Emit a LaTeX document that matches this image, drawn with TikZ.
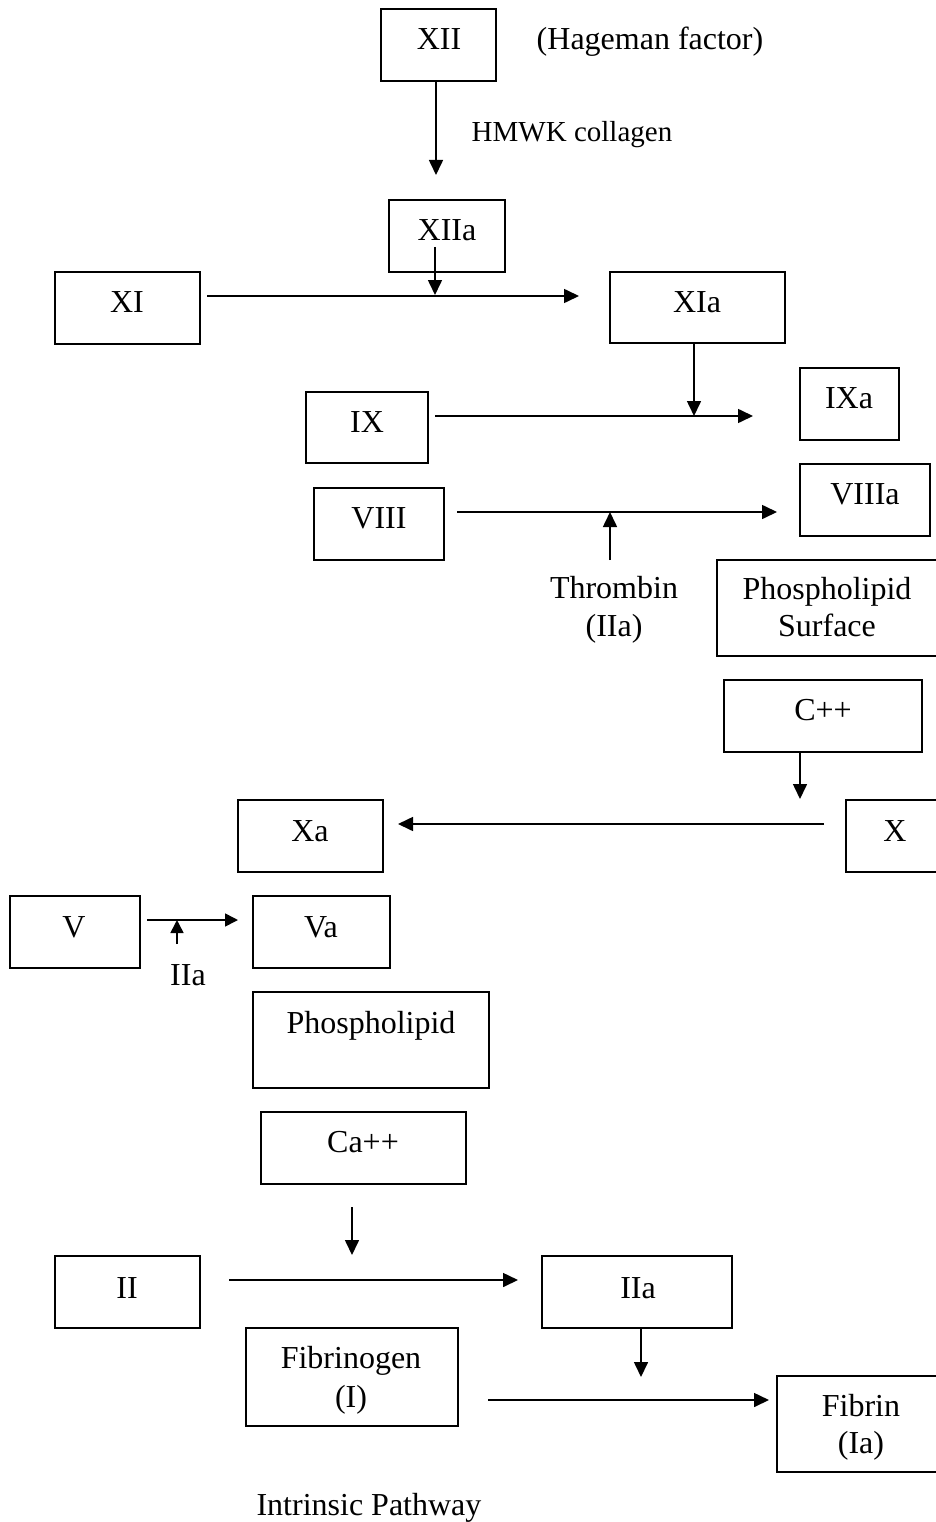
\documentclass[tikz,border=0pt]{standalone}
\usepackage{fontspec}
\setmainfont{Liberation Serif}
\usetikzlibrary{arrows.meta}
\tikzset{
  box/.style={draw, line width=1.7pt, inner sep=0pt, rectangle},
  lbl/.style={anchor=base, inner sep=0pt, font=\fontsize{32}{38}\selectfont},
  small/.style={anchor=base, inner sep=0pt, font=\fontsize{29}{34}\selectfont},
  arr/.style={line width=1.6pt, -{Triangle[length=15pt,width=14pt]}}
}
\newcommand{\bx}[5]{\node[box, minimum width={#4-#2}, minimum height={#5-#3}] (#1) at ({(#2+#4)/2},{(#3+#5)/2}) {};}
\begin{document}
\begin{tikzpicture}[x=1pt,y=-1pt]
\useasboundingbox (0,0) rectangle (936,1522);
% boxes
\bx{xii}{381}{9}{496}{81}
\bx{xiia}{389}{200}{505}{272}
\bx{xi}{55}{272}{200}{344}
\bx{xia}{610}{272}{785}{343}
\bx{ix}{306}{392}{428}{463}
\bx{ixa}{800}{368}{899}{440}
\bx{viii}{314}{488}{444}{560}
\bx{viiia}{800}{464}{930}{536}
\bx{psurf}{717}{560}{940}{656}
\bx{cpp}{724}{680}{922}{752}
\bx{x}{846}{800}{940}{872}
\bx{xa}{238}{800}{383}{872}
\bx{v}{10}{896}{140}{968}
\bx{va}{253}{896}{390}{968}
\bx{phos}{253}{992}{489}{1088}
\bx{ca}{261}{1112}{466}{1184}
\bx{ii}{55}{1256}{200}{1328}
\bx{iia}{542}{1256}{732}{1328}
\bx{fgen}{246}{1328}{458}{1426}
\bx{fibrin}{777}{1376}{940}{1472}
% texts
\node[lbl] (t-xii) at (439,50) {XII};
\node[lbl] (t-hag) at (650,50) {(Hageman factor)};
\node[small] (t-hmwk) at (572,142) {HMWK collagen};
\node[lbl] (t-xiia) at (447,241) {XIIa};
\node[lbl] (t-xi) at (127,312) {XI};
\node[lbl] (t-xia) at (697,312) {XIa};
\node[lbl] (t-ix) at (367,432) {IX};
\node[lbl] (t-ixa) at (849,408) {IXa};
\node[lbl] (t-viii) at (379,528) {VIII};
\node[lbl] (t-viiia) at (865,504) {VIIIa};
\node[lbl] (t-thr1) at (614,598) {Thrombin};
\node[lbl] (t-thr2) at (614,636) {(IIa)};
\node[lbl] (t-ps1) at (827,599) {Phospholipid};
\node[lbl] (t-ps2) at (827,636) {Surface};
\node[lbl] (t-cpp) at (823,720) {C++};
\node[lbl] (t-x) at (895,841) {X};
\node[lbl] (t-xa) at (310,841) {Xa};
\node[lbl] (t-v) at (74,937) {V};
\node[lbl] (t-va) at (321,937) {Va};
\node[lbl] (t-iia2) at (188,985) {IIa};
\node[lbl] (t-phos) at (371,1033) {Phospholipid};
\node[lbl] (t-ca) at (363,1152) {Ca++};
\node[lbl] (t-ii) at (127,1298) {II};
\node[lbl] (t-iia) at (638,1298) {IIa};
\node[lbl] (t-fg1) at (351,1368) {Fibrinogen};
\node[lbl] (t-fg2) at (351,1407) {(I)};
\node[lbl] (t-fb1) at (861,1416) {Fibrin};
\node[lbl] (t-fb2) at (861,1453) {(Ia)};
\node[lbl] (t-intr) at (369,1515) {Intrinsic Pathway};
% connector end points
\coordinate (a1s) at (436,81);   \coordinate (a1e) at (436,175);
\coordinate (a2s) at (435,247);  \coordinate (a2e) at (435,295);
\coordinate (a3s) at (207,296);  \coordinate (a3e) at (579,296);
\coordinate (a4s) at (694,343);  \coordinate (a4e) at (694,416);
\coordinate (a5s) at (435,416);  \coordinate (a5e) at (753,416);
\coordinate (a6s) at (457,512);  \coordinate (a6e) at (777,512);
\coordinate (a7s) at (610,560);  \coordinate (a7e) at (610,512);
\coordinate (a8s) at (800,752);  \coordinate (a8e) at (800,799);
\coordinate (a9s) at (824,824);  \coordinate (a9e) at (398,824);
\coordinate (a10s) at (147,920); \coordinate (a10e) at (238,920);
\coordinate (a11s) at (177,944); \coordinate (a11e) at (177,920);
\coordinate (a12s) at (352,1207);\coordinate (a12e) at (352,1255);
\coordinate (a13s) at (229,1280);\coordinate (a13e) at (518,1280);
\coordinate (a14s) at (641,1328);\coordinate (a14e) at (641,1377);
\coordinate (a15s) at (488,1400);\coordinate (a15e) at (769,1400);
% connectors
\draw[arr] (a1s) -- (a1e);
\draw[arr] (a2s) -- (a2e);
\draw[arr] (a3s) -- (a3e);
\draw[arr] (a4s) -- (a4e);
\draw[arr] (a5s) -- (a5e);
\draw[arr] (a6s) -- (a6e);
\draw[arr] (a7s) -- (a7e);
\draw[arr] (a8s) -- (a8e);
\draw[arr] (a9s) -- (a9e);
\draw[arr, -{Triangle[length=13pt,width=13pt]}] (a10s) -- (a10e);
\draw[arr, -{Triangle[length=13pt,width=13pt]}] (a11s) -- (a11e);
\draw[arr] (a12s) -- (a12e);
\draw[arr] (a13s) -- (a13e);
\draw[arr] (a14s) -- (a14e);
\draw[arr] (a15s) -- (a15e);
\end{tikzpicture}
\end{document}
